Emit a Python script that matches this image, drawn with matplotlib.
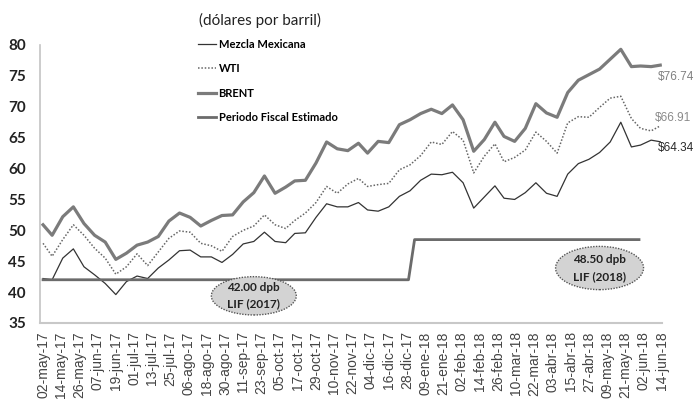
import numpy as np
import matplotlib.pyplot as plt
from matplotlib.patches import Ellipse
import matplotlib.dates as mdates

# dias contados desde el 02-may-17 para cada lectura
day_offsets = [0, 6, 13, 20, 27, 34, 41, 48, 55, 62, 69, 76, 83, 90, 97, 104, 111, 118, 125, 132,
               139, 146, 153, 160, 166, 173, 180, 187, 194, 201, 208, 214, 221, 228, 235, 242, 249, 256, 263, 270,
               277, 284, 291, 298, 304, 311, 318, 325, 332, 339, 346, 353, 360, 367, 374, 381, 388, 394, 401, 407]

mezcla = [42.2, 42.0, 45.5, 47.0, 44.1, 42.8, 41.4, 39.6, 41.7, 42.6, 42.2, 43.9, 45.2, 46.7, 46.8, 45.7, 45.7, 44.8, 46.1, 47.8,
          48.2, 49.7, 48.2, 48.0, 49.5, 49.6, 52.1, 54.3, 53.8, 53.8, 54.5, 53.3, 53.1, 53.8, 55.5, 56.4, 58.1, 59.1, 59.0, 59.4,
          57.7, 53.6, 55.4, 57.2, 55.2, 55.0, 56.1, 57.7, 56.0, 55.5, 59.1, 60.8, 61.5, 62.6, 64.3, 67.5, 63.5, 63.8, 64.6, 64.34]
wti = [47.9, 45.8, 48.5, 50.9, 49.2, 47.1, 45.5, 42.9, 44.1, 46.2, 44.3, 46.5, 48.7, 49.9, 49.7, 47.9, 47.5, 46.6, 49.0, 50.0,
       50.7, 52.5, 50.9, 50.3, 51.6, 52.8, 54.5, 57.1, 56.0, 57.5, 58.4, 57.1, 57.4, 57.6, 59.8, 60.6, 62.1, 64.3, 63.9, 66.0,
       64.6, 59.3, 62.0, 64.0, 61.1, 61.8, 63.0, 65.9, 64.4, 62.5, 67.4, 68.4, 68.3, 69.9, 71.4, 71.7, 68.1, 66.5, 66.1, 66.91]
brent = [50.9, 49.2, 52.2, 53.8, 51.1, 49.2, 48.1, 45.3, 46.3, 47.6, 48.1, 49.0, 51.5, 52.8, 52.1, 50.7, 51.6, 52.4, 52.5, 54.6,
         56.1, 58.8, 56.0, 57.0, 58.0, 58.1, 60.9, 64.3, 63.2, 62.9, 64.1, 62.5, 64.4, 64.2, 67.1, 67.9, 68.9, 69.6, 68.9, 70.3,
         67.9, 62.8, 64.7, 67.5, 65.2, 64.4, 66.5, 70.5, 69.0, 68.3, 72.3, 74.3, 75.2, 76.1, 77.7, 79.3, 76.5, 76.6, 76.5, 76.74]

fiscal_fechas = ['2017-05-02', '2017-12-29', '2018-01-02', '2018-05-30']
fiscal_valores = [42.0, 42.0, 48.5, 48.5]

tick_labels = ['02-may-17', '14-may-17', '26-may-17', '07-jun-17', '19-jun-17', '01-jul-17', '13-jul-17',
               '25-jul-17', '06-ago-17', '18-ago-17', '30-ago-17', '11-sep-17', '23-sep-17', '05-oct-17',
               '17-oct-17', '29-oct-17', '10-nov-17', '22-nov-17', '04-dic-17', '16-dic-17', '28-dic-17',
               '09-ene-18', '21-ene-18', '02-feb-18', '14-feb-18', '26-feb-18', '10-mar-18', '22-mar-18',
               '03-abr-18', '15-abr-18', '27-abr-18', '09-may-18', '21-may-18', '02-jun-18', '14-jun-18']

inicio = np.datetime64('2017-05-02')
fechas = inicio + np.array(day_offsets).astype('timedelta64[D]')
tick_fechas = inicio + np.arange(len(tick_labels)) * np.timedelta64(12, 'D')

fig = plt.figure(figsize=(6.96, 4.0), dpi=100)
ax = fig.add_axes([40/696, 77/400, 622/696, 278/400])

ax.plot(fechas, mezcla, color='#333333', lw=0.9, label='Mezcla Mexicana')
ax.plot(fechas, wti, color='#666666', lw=1.1, ls=(0, (1, 1.2)), label='WTI')
ax.plot(fechas, brent, color='#7b7b7b', lw=2.3, label='BRENT')
ax.plot(np.array(fiscal_fechas, dtype='datetime64[D]'), fiscal_valores, color='#6b6b6b', lw=2.0,
        label='Periodo Fiscal Estimado')

ax.set_ylim(35, 80)
ax.set_xlim(np.datetime64('2017-04-30'), np.datetime64('2018-06-14T04'))

ax.set_xticks(tick_fechas)
ax.set_xticklabels(tick_labels, rotation=90, fontsize=10, color='#444444', family='Liberation Sans')
ax.tick_params(axis='x', length=0, pad=6)
ax.set_yticks(range(35, 81, 5))
ax.set_yticklabels([str(v) for v in range(35, 81, 5)], fontsize=11, fontweight='bold',
                   family='Lato', color='#222222')
ax.tick_params(axis='y', length=0, pad=10)

for s in ['top', 'right']:
    ax.spines[s].set_visible(False)
ax.spines['left'].set_color('#c4c4c4')
ax.spines['left'].set_linewidth(1.2)
ax.spines['bottom'].set_color('#c8c8c8')
ax.spines['bottom'].set_linewidth(1.5)

# etiquetas de cierre
ax.annotate('$76.74', xy=(fechas[-1], brent[-1]), xytext=(-1.5, -8.5), textcoords='offset points',
            va='center', ha='left', fontsize=8.5, color='#808080', family='Liberation Sans')
ax.annotate('$66.91', xy=(fechas[-1], wti[-1]), xytext=(-4, 6), textcoords='offset points',
            va='center', ha='left', fontsize=8.5, color='#8a8a8a', family='Liberation Sans')
ax.annotate('$64.34', xy=(fechas[-1], mezcla[-1]), xytext=(-1.5, -4.5), textcoords='offset points',
            va='center', ha='left', fontsize=8.5, color='#2a2a2a', family='Liberation Sans')

# globos LIF
globos = [('2017-09-18', 39.4, 56, 6.2, '42.00 dpb\nLIF (2017)'),
          ('2018-05-04', 43.9, 58, 7.0, '48.50 dpb\nLIF (2018)')]
for fecha, y, w, h, txt in globos:
    cx = mdates.date2num(np.datetime64(fecha))
    ax.add_patch(Ellipse((cx, y), w, h, facecolor='#d3d3d3', edgecolor='#555555',
                         lw=1.0, ls=(0, (1, 1)), zorder=5))
    ax.text(cx, y, txt, ha='center', va='center', fontsize=8.5, fontweight='bold',
            family='Lato', color='#222222', linespacing=1.6, zorder=6)

fig.text(199/696, 1 - 20/400, '(dólares por barril)', ha='left', va='center',
         fontsize=11, family='Lato', color='#222222')
fig.legend(loc='upper left', bbox_to_anchor=(198/696, 1 - 39/400), frameon=False,
           prop=dict(family='Lato', weight='bold', size=8), handlelength=1.6,
           handletextpad=0.25, labelspacing=1.2, borderpad=0, borderaxespad=0)

fig.savefig('out.png', dpi=100)
